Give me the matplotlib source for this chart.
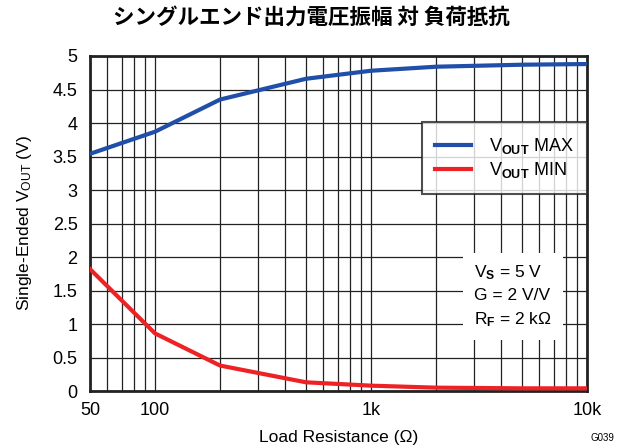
import matplotlib
matplotlib.use("Agg")
import matplotlib.pyplot as plt
from matplotlib.ticker import FixedLocator, NullFormatter

# ---------------- data -----------------------------------------------------
load_ohm = [50, 100, 200, 500, 1000, 2000, 5000, 10000]
vout_max = [3.54, 3.87, 4.35, 4.66, 4.78, 4.84, 4.87, 4.88]
vout_min = [1.82, 0.86, 0.38, 0.13, 0.08, 0.05, 0.04, 0.04]

x_ticks = [50, 100, 1000, 10000]
x_labels = ["50", "100", "1k", "10k"]
y_ticks = [0, 0.5, 1, 1.5, 2, 2.5, 3, 3.5, 4, 4.5, 5]
y_labels = ["0", "0.5", "1", "1.5", "2", "2.5", "3", "3.5", "4", "4.5", "5"]
minor_x = [60, 70, 80, 90, 200, 300, 400, 500, 600, 700, 800, 900,
           2000, 3000, 4000, 5000, 6000, 7000, 8000, 9000]

# ---------------- style ----------------------------------------------------
plt.rcParams['font.family'] = ['Liberation Sans', 'Noto Sans CJK JP', 'DejaVu Sans']
plt.rcParams['mathtext.fontset'] = 'custom'
plt.rcParams['mathtext.rm'] = 'Liberation Sans'
plt.rcParams['mathtext.bf'] = 'Liberation Sans:bold'
plt.rcParams['mathtext.it'] = 'Liberation Sans'

fig = plt.figure(figsize=(6.22, 4.48), dpi=100)
ax = fig.add_axes([0.1447, 0.1272, 0.7990, 0.7478])

ax.plot(load_ohm, vout_max, color='#1f4fa8', lw=3, label=r'V$_{\mathbf{OUT}}$ MAX', zorder=3)
ax.plot(load_ohm, vout_min, color='#ee2224', lw=3, label=r'V$_{\mathbf{OUT}}$ MIN', zorder=3)

ax.set_xscale('log')
ax.set_xlim(50, 10000)
ax.set_ylim(0, 5)
ax.xaxis.set_major_locator(FixedLocator(x_ticks))
ax.set_xticklabels(x_labels)
ax.xaxis.set_minor_locator(FixedLocator(minor_x))
ax.xaxis.set_minor_formatter(NullFormatter())
ax.set_yticks(y_ticks)
ax.set_yticklabels(y_labels)
ax.tick_params(axis='both', which='both', length=0, labelsize=13)
ax.tick_params(axis='x', pad=8)
ax.tick_params(axis='y', pad=9)

ax.grid(True, which='both', color='#222222', lw=0.9)
for s in ax.spines.values():
    s.set_linewidth(2)
    s.set_color('#222222')

ax.set_xlabel('Load Resistance (Ω)', fontsize=12.5, labelpad=8)
ax.set_ylabel(r'Single-Ended V$_{\mathrm{OUT}}$ (V)', fontsize=12.5, labelpad=13)

# legend box sits on the right frame edge
leg = ax.legend(loc='upper right', bbox_to_anchor=(1.0, 0.802), borderaxespad=0,
                fontsize=13, frameon=True, fancybox=False, edgecolor='#222222',
                handlelength=2.0, handletextpad=0.95, borderpad=0.75,
                labelspacing=0.25)
leg.get_frame().set_linewidth(1.5)
leg.set_zorder(5)

ax.text(0.773, 0.38, 'V$_{\\mathbf{S}}$ = 5 V\nG = 2 V/V\nR$_{\\mathbf{F}}$ = 2 kΩ',
        transform=ax.transAxes, fontsize=12.5, va='top', ha='left', linespacing=1.5,
        bbox=dict(facecolor='white', edgecolor='none', pad=8), zorder=4)

fig.suptitle('シングルエンド出力電圧振幅 対 負荷抵抗', x=0.5, y=0.985,
             fontsize=15.5, fontweight='bold', family=['Noto Sans CJK JP'])
fig.text(0.949, 0.015, 'G039', fontsize=7, ha='left')

fig.savefig('out.png', dpi=100)
